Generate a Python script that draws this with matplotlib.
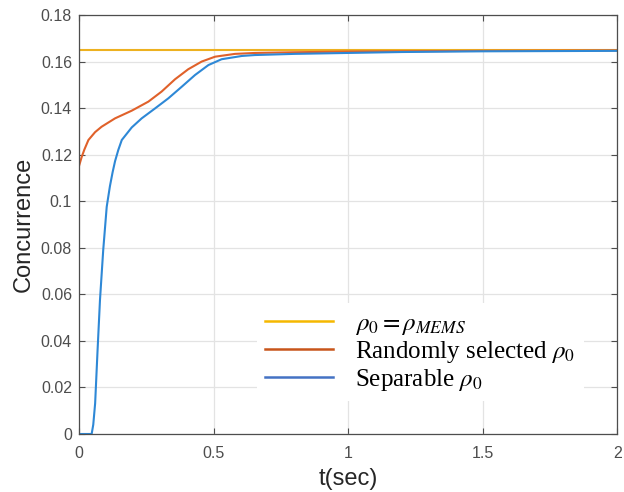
import matplotlib
matplotlib.use("Agg")
import matplotlib.pyplot as plt
import numpy as np

plt.rcParams['font.family'] = ['Liberation Sans', 'DejaVu Sans']
plt.rcParams['mathtext.fontset'] = 'stix'

# Concurrence vs time for three initial states
t_mems = [0.0, 2.0]
c_mems = [0.165, 0.165]

t_rand = [0.0, 0.01, 0.02, 0.035, 0.06, 0.084, 0.134, 0.196, 0.258, 0.307,
          0.357, 0.406, 0.456, 0.506, 0.58, 0.654, 0.8, 1.0, 1.5, 2.0]
c_rand = [0.1151, 0.119, 0.1222, 0.1263, 0.1297, 0.132, 0.1356, 0.1389,
          0.1428, 0.1471, 0.1524, 0.1567, 0.160, 0.1621, 0.1633, 0.1637,
          0.164, 0.1643, 0.1646, 0.1648]

t_sep = [0.0, 0.047, 0.053, 0.06, 0.069, 0.078, 0.09, 0.103, 0.115, 0.125,
         0.134, 0.146, 0.159, 0.196, 0.233, 0.283, 0.332, 0.382, 0.431, 0.481,
         0.53, 0.605, 0.654, 0.8, 1.0, 1.2, 1.5, 2.0]
c_sep = [0.0, 0.0, 0.004, 0.0132, 0.036, 0.0576, 0.079, 0.0976, 0.1065,
         0.1125, 0.1172, 0.122, 0.1263, 0.1317, 0.1356, 0.1399, 0.1442,
         0.1492, 0.1542, 0.1585, 0.161, 0.1624, 0.1628, 0.1633, 0.1637,
         0.1641, 0.1644, 0.1646]

labels = [r'$\rho_0 = \rho_{MEMS}$', r'Randomly selected $\rho_0$', r'Separable $\rho_0$']

fig = plt.figure(figsize=(6.24, 4.92), dpi=100)
ax = fig.add_axes([0.1266, 0.1179, 0.8624, 0.8516])

ax.plot(t_mems, c_mems, color='#EDB120', lw=1.5, label=labels[0])
ax.plot(t_rand, c_rand, color='#E0612A', lw=1.5, label=labels[1])
ax.plot(t_sep, c_sep, color='#2E88D6', lw=1.5, label=labels[2])

ax.set_xlim(0, 2)
ax.set_ylim(0, 0.18)
ax.set_xticks([0, 0.5, 1, 1.5, 2])
ax.set_xticklabels(['0', '0.5', '1', '1.5', '2'])
ax.set_yticks(np.arange(0, 0.181, 0.02))
ax.set_yticklabels(['0', '0.02', '0.04', '0.06', '0.08', '0.1', '0.12',
                    '0.14', '0.16', '0.18'])
ax.grid(True, color='#e3e3e3', lw=0.9)
ax.set_axisbelow(True)
ax.tick_params(direction='in', top=True, right=True, length=4, width=0.8,
               colors='#4d4d4d', labelsize=11.5)
ax.tick_params(axis='x', pad=9)
ax.tick_params(axis='y', pad=5)
for s in ax.spines.values():
    s.set_color('#4d4d4d')
    s.set_linewidth(0.9)

ax.set_xlabel('t(sec)', fontsize=17, color='#262626', labelpad=5)
ax.set_ylabel('Concurrence', fontsize=17, color='#262626', labelpad=4)

leg = ax.legend(loc='upper left', bbox_to_anchor=(0.33, 0.312), frameon=True,
                prop={'family': 'Liberation Serif', 'size': 18},
                handlelength=2.7, handletextpad=0.9, labelspacing=0.08,
                borderpad=0.35, borderaxespad=0.0, fancybox=False)
leg.get_frame().set_edgecolor('none')
leg.get_frame().set_facecolor('white')
leg.get_frame().set_alpha(1.0)
leg.get_lines()[0].set_color('#F5B800')
leg.get_lines()[1].set_color('#C8551A')
leg.get_lines()[2].set_color('#4472C4')
for line in leg.get_lines():
    line.set_linewidth(1.8)

fig.savefig('out.png', dpi=100)
